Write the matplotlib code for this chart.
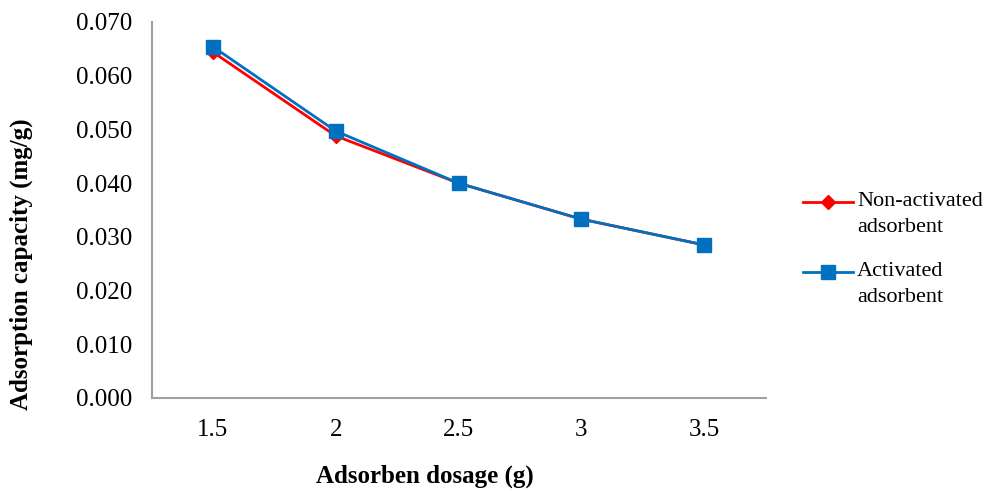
import matplotlib
matplotlib.use("Agg")
import matplotlib.pyplot as plt
from matplotlib.lines import Line2D

categories = ["1.5", "2", "2.5", "3", "3.5"]
non_activated = [0.0644, 0.0488, 0.0400, 0.0333, 0.0285]
activated = [0.0654, 0.0497, 0.0400, 0.0333, 0.0285]
yticks = [0.0, 0.01, 0.02, 0.03, 0.04, 0.05, 0.06, 0.07]
series_labels = [("Non-activated", "adsorbent"), ("Activated", "adsorbent")]

plt.rcParams['font.family'] = ['Liberation Serif', 'DejaVu Serif']

W, H = 986, 491
fig = plt.figure(figsize=(W / 100, H / 100), dpi=100)
ax = fig.add_axes([151.5 / W, 1 - 398 / H, 614 / W, (398 - 22) / H])

red = '#FF0000'
blue = '#0070C0'
x = list(range(len(categories)))
ax.plot(x, non_activated, color=red, marker='D', markersize=7, linewidth=2)
ax.plot(x, activated, color=blue, marker='s', markersize=10, linewidth=2)

ax.set_xlim(-0.5, len(categories) - 0.5)
ax.set_ylim(0, 0.07)
ax.set_xticks(x)
ax.set_xticklabels(categories, fontsize=18)
ax.set_yticks(yticks)
ax.set_yticklabels([f"{v:.3f}" for v in yticks], fontsize=18)
ax.tick_params(length=0)
ax.tick_params(axis='y', pad=14)
ax.tick_params(axis='x', pad=15)

for s in ['top', 'right']:
    ax.spines[s].set_visible(False)
for s in ['left', 'bottom']:
    ax.spines[s].set_color('#A0A0A0')
    ax.spines[s].set_linewidth(1.5)

fig.text(425 / W, 1 - 476 / H, 'Adsorben dosage (g)', fontsize=18, fontweight='bold',
         ha='center', va='center')
fig.text(21 / W, 1 - 264 / H, 'Adsorption capacity (mg/g)', fontsize=18, fontweight='bold',
         ha='center', va='center', rotation=90)

# manual legend
entries = [(202, red, 'D', 7), (272, blue, 's', 10)]
for (yc, col, mk, ms), (l1, l2) in zip(entries, series_labels):
    yf = 1 - yc / H
    fig.add_artist(Line2D([803 / W, 828 / W, 853 / W], [yf, yf, yf], color=col, linewidth=2,
                          marker=mk, markersize=ms, markevery=[1]))
    fig.text(857 / W, yf, l1, fontsize=16, ha='left', va='center')
    fig.text(857 / W, 1 - (yc + 26) / H, l2, fontsize=16, ha='left', va='center')

fig.savefig('out.png', dpi=100)
